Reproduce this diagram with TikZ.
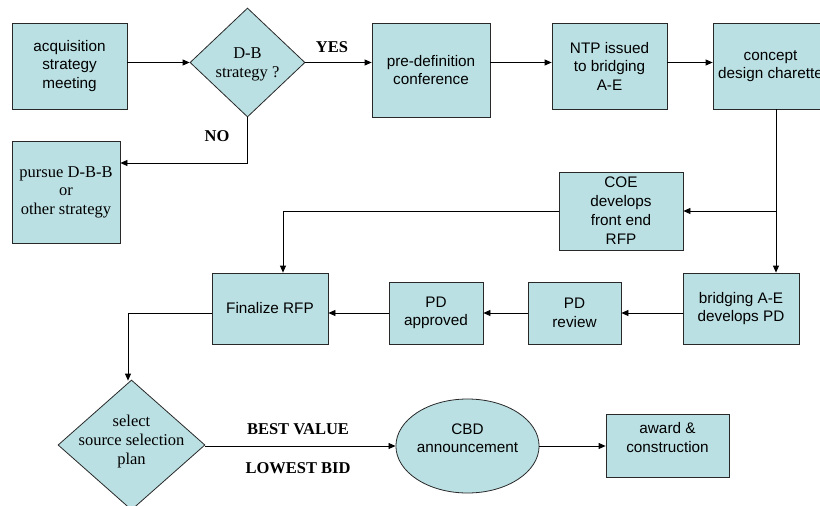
\documentclass[tikz,border=0pt]{standalone}
\usepackage{fontspec}
\setmainfont{Liberation Serif}
\setsansfont{Liberation Sans}
\usetikzlibrary{arrows.meta,shapes.geometric}
\definecolor{boxfill}{RGB}{187,224,227}
\definecolor{boxline}{RGB}{40,40,40}
\tikzset{
  sansbox/.style={draw=boxline, line width=0.8pt, fill=boxfill, inner sep=0pt,
    align=center, font=\sffamily\fontsize{15.3}{18.5}\selectfont},
  serifbox/.style={draw=boxline, line width=0.8pt, fill=boxfill, inner sep=0pt,
    align=center, font=\rmfamily\fontsize{16.5}{18.5}\selectfont},
  dia/.style={diamond, draw=boxline, line width=0.8pt, fill=boxfill, inner sep=0pt},
  diatext/.style={align=center, inner sep=0pt, font=\rmfamily\fontsize{16.5}{19}\selectfont},
  lab/.style={inner sep=0pt, font=\rmfamily\bfseries\fontsize{16.5}{19}\selectfont},
  conn/.style={line width=0.8pt, -{Triangle[length=7pt,width=6pt]}},
  plain/.style={line width=0.8pt},
}
\begin{document}
\begin{tikzpicture}[x=1pt,y=-1pt]
\useasboundingbox (0,0) rectangle (820,506);
% nodes
\node[sansbox, minimum width=115, minimum height=86] (acq) at (69.5,66) {acquisition\\strategy\\meeting};
\node[dia, minimum width=115, minimum height=109] (db) at (247.5,62.5) {};
\node[diatext] (dbt) at (247.5,64.5) {D-B\\strategy ?};
\node[sansbox, minimum width=118, minimum height=94] (pre) at (431,70) {pre-definition\\conference};
\node[sansbox, minimum width=115, minimum height=86] (ntp) at (609.5,66) {NTP issued\\to bridging\\A-E};
\node[sansbox, minimum width=115, minimum height=86] (con) at (770.5,66) {concept\\design charette};
\node[serifbox, minimum width=108, minimum height=102] (pur) at (66,192) {pursue D-B-B\\or\\other strategy};
\node[sansbox, minimum width=124, minimum height=78, font=\sffamily\fontsize{15.3}{19}\selectfont] (coe) at (621,211) {COE\\develops\\front end\\RFP};
\node[sansbox, minimum width=116, minimum height=71] (fin) at (270,308.5) {Finalize RFP};
\node[sansbox, minimum width=94, minimum height=62] (app) at (436,313) {PD\\approved};
\node[sansbox, minimum width=93, minimum height=62] (rev) at (574.5,313) {PD\\review};
\node[sansbox, minimum width=116, minimum height=71] (bri) at (741,308.5) {bridging A-E\\develops PD};
\node[dia, minimum width=147, minimum height=130] (sel) at (131.5,445) {};
\node[diatext] (selt) at (131.5,442) {select\\source selection\\plan};
\node[ellipse, draw=boxline, line width=0.8pt, fill=boxfill, inner sep=0pt,
  minimum width=139, minimum height=94, align=center,
  font=\sffamily\fontsize{15.3}{18.5}\selectfont] (cbd) at (467.5,446) {CBD\\announcement\\[-8pt]\strut};
\node[sansbox, minimum width=123, minimum height=63] (awd) at (667.5,445.5) {award \&\\construction\\[-8pt]\strut};
% labels
\node[lab] (yes) at (332,47) {YES};
\node[lab] (no) at (217,136) {NO};
\node[lab] (bv) at (298,429) {BEST VALUE};
\node[lab] (lb) at (298,468) {LOWEST BID};
% helper coordinates
\coordinate (split) at (776,211);
\coordinate (c2) at (283,211);
\coordinate (c3) at (128,313);
\coordinate (c4) at (247.5,163);
% connectors
\draw[conn] (acq.east |- db.west) -- (db.west);
\draw[conn] (db.east) -- (db.east -| pre.west);
\draw[conn] (pre.east |- db.east) -- (ntp.west |- db.east);
\draw[conn] (ntp.east |- db.east) -- (con.west |- db.east);
\draw[conn] (con.south -| split) -- (bri.north -| split);
\draw[conn] (split) -- (coe.east |- split);
\draw[conn] (coe.west) -- (c2) -- (c2 |- fin.north);
\draw[conn] (bri.west |- rev.east) -- (rev.east);
\draw[conn] (rev.west) -- (app.east);
\draw[conn] (app.west) -- (fin.east |- app.west);
\draw[conn] (fin.west |- c3) -- (c3) -- ([yshift=-1pt]c3 |- sel.north);
\draw[conn] (sel.east |- cbd.west) -- (cbd.west);
\draw[conn] (cbd.east) -- (awd.west |- cbd.east);
\draw[conn] (db.south) -- (c4) -- (c4 -| pur.east);
\end{tikzpicture}
\end{document}
